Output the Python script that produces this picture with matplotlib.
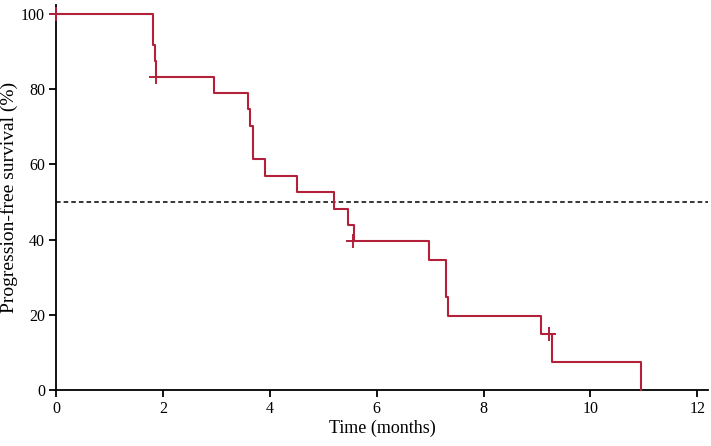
import matplotlib
matplotlib.use("Agg")
import matplotlib.pyplot as plt

plt.rcParams['font.family'] = ['Liberation Serif', 'DejaVu Serif']

# Kaplan-Meier step points (time in months, survival in %)
step_times = [0, 1.82, 1.85, 1.88, 2.96, 3.60, 3.63, 3.69, 3.91, 4.51,
              5.21, 5.47, 5.57, 6.98, 7.30, 7.33, 9.08, 9.28, 10.95]
step_surv = [100, 91.7, 87.5, 83.3, 78.9, 74.6, 70.2, 61.4, 57.0, 52.6,
             48.2, 43.9, 39.5, 34.6, 24.7, 19.8, 14.8, 7.4, 0]

# censored observations
cens_times = [0, 1.88, 5.56, 9.22]
cens_surv = [100, 83.3, 39.5, 14.8]

median_line = 50
x_ticks = [0, 2, 4, 6, 8, 10, 12]
y_ticks = [0, 20, 40, 60, 80, 100]

fig = plt.figure(figsize=(7.11, 4.46), dpi=100)
ax = fig.add_axes([0.0788, 0.1256, 0.9170, 0.8634])

red = '#B3203A'
ax.step(step_times, step_surv, where='post', color=red, linewidth=1.5, clip_on=False, zorder=3)
ax.plot(cens_times, cens_surv, linestyle='none', marker='+', markersize=10,
        markeredgewidth=1.4, color=red, clip_on=False, zorder=4)
ax.axhline(median_line, color='black', linestyle=(0, (3, 2)), linewidth=1.1)

ax.set_xlim(0, 12.2)
ax.set_ylim(0, 102.4)
ax.set_xticks(x_ticks)
ax.set_yticks(y_ticks)
for side in ['top', 'right']:
    ax.spines[side].set_visible(False)
for side in ['left', 'bottom']:
    ax.spines[side].set_linewidth(1.3)
ax.tick_params(direction='out', length=5, width=1.3, labelsize=11.5, pad=3)

ax.set_xlabel('Time (months)', fontsize=13, labelpad=2)
ax.set_ylabel('Progression-free survival (%)', fontsize=14, labelpad=2)

fig.savefig('out.png', dpi=100)
